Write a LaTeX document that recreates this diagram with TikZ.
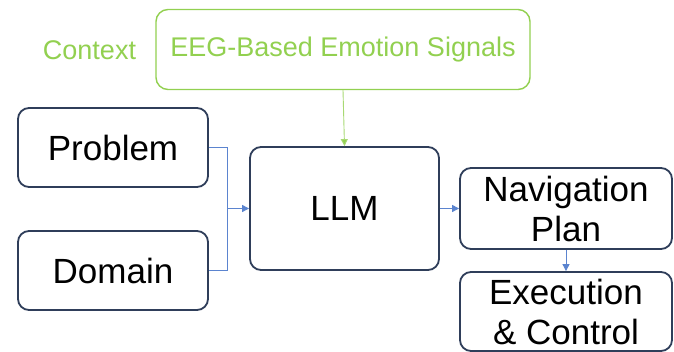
\documentclass[tikz,border=0pt]{standalone}
\usepackage{fontspec}
\setmainfont{Liberation Sans}
\usepackage{tikz}
\usetikzlibrary{arrows.meta, positioning}

\definecolor{boxline}{HTML}{2F3E5A}
\definecolor{linkblue}{HTML}{5B84CF}
\definecolor{ctxgreen}{HTML}{92D050}

\begin{document}
\begin{tikzpicture}[x=1pt, y=-1pt,
    block/.style={draw=boxline, line width=1.8pt, rounded corners=11pt, inner sep=0pt, align=center, font=\fontsize{35}{40}\selectfont},
    link/.style={draw=linkblue, line width=0.9pt, -{Triangle[length=7pt, width=7pt]}},
    ctxlink/.style={draw=ctxgreen!80, line width=0.9pt, -{Triangle[length=7pt, width=7pt, fill=ctxgreen]}}]
    \useasboundingbox (0,0) rectangle (674,352);

    % Context
    \node[text=ctxgreen, font=\fontsize{27}{32}\selectfont] (ctx) at (89.5, 50) {Context};
    \node[draw=ctxgreen, line width=1.4pt, rounded corners=12pt, minimum width=374pt, minimum height=80pt, text=ctxgreen, font=\fontsize{27}{32}\selectfont] (eeg) at (343, 49.5) {EEG-Based Emotion Signals};

    % Inputs
    \node[block, minimum width=190pt, minimum height=79pt] (prob) at (113, 147.5) {Problem};
    \node[block, minimum width=190pt, minimum height=79pt] (dom) at (113, 270.5) {Domain};

    % Model and outputs
    \node[block, minimum width=189pt, minimum height=123pt] (llm) at (344.5, 208.5) {LLM};
    \node[block, minimum width=212pt, minimum height=81pt] (nav) at (566, 208.5) {Navigation\\Plan};
    \node[block, minimum width=212pt, minimum height=79pt] (exec) at (566, 311.5) {Execution\\\& Control};

    % Connections
    \coordinate (join) at (227.5, 208.5);
    \draw[draw=linkblue, line width=0.9pt] (prob.east) -| (join);
    \draw[draw=linkblue, line width=0.9pt] (dom.east) -| (join);
    \draw[link] (join) -- (llm.west);
    \draw[link] (llm.east) -- (nav.west);
    \draw[link] (nav.south) -- (exec.north);
    \draw[ctxlink] (eeg.south) -- (llm.north);
\end{tikzpicture}
\end{document}
